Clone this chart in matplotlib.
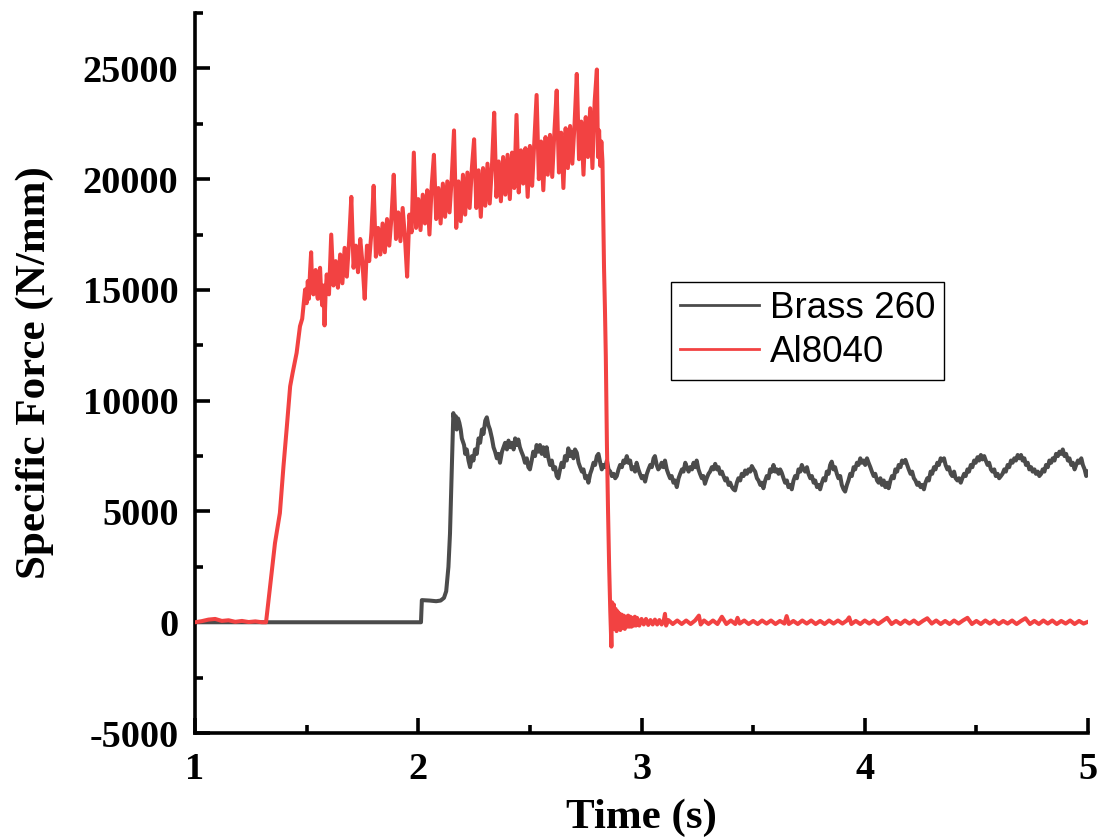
import matplotlib
matplotlib.use("Agg")
import matplotlib.pyplot as plt
from matplotlib.ticker import MultipleLocator
from matplotlib.lines import Line2D

plt.rcParams["axes.unicode_minus"] = False

# ---------------- data ----------------
brass_t = [1.00, 1.50, 2.012, 2.016, 2.05, 2.08, 2.10, 2.115, 2.125, 2.135, 2.142, 2.150,
           2.157, 2.163, 2.168, 2.172, 2.178, 2.184, 2.190, 2.195, 2.205, 2.210, 2.217, 2.225,
           2.232, 2.240, 2.247, 2.254, 2.262, 2.270, 2.277, 2.285, 2.292, 2.300, 2.307, 2.314,
           2.321, 2.330, 2.337, 2.344, 2.352, 2.359, 2.366, 2.375, 2.382, 2.389, 2.397, 2.404,
           2.412, 2.419, 2.427, 2.434, 2.441, 2.448, 2.455, 2.462, 2.470, 2.478, 2.486, 2.493,
           2.500, 2.508, 2.515, 2.523, 2.530, 2.538, 2.545, 2.553, 2.560, 2.568, 2.575, 2.583,
           2.590, 2.598, 2.605, 2.613, 2.620, 2.627, 2.635, 2.642, 2.650, 2.657, 2.665, 2.672,
           2.680, 2.687, 2.695, 2.702, 2.710, 2.718, 2.725, 2.733, 2.740, 2.748, 2.755, 2.762,
           2.770, 2.777, 2.785, 2.792, 2.800, 2.807, 2.815, 2.822, 2.830, 2.837, 2.845, 2.852,
           2.860, 2.867, 2.875, 2.882, 2.889, 2.897, 2.904, 2.912, 2.919, 2.926, 2.934, 2.941,
           2.949, 2.956, 2.963, 2.971, 2.978, 2.986, 2.993, 3.001, 3.008, 3.016, 3.024, 3.031,
           3.039, 3.046, 3.054, 3.060, 3.068, 3.075, 3.083, 3.090, 3.098, 3.105, 3.113, 3.120,
           3.128, 3.135, 3.143, 3.150, 3.158, 3.166, 3.173, 3.181, 3.188, 3.196, 3.203, 3.211,
           3.218, 3.226, 3.233, 3.240, 3.247, 3.255, 3.262, 3.270, 3.277, 3.284, 3.292, 3.300,
           3.307, 3.315, 3.322, 3.330, 3.338, 3.345, 3.352, 3.360, 3.367, 3.375, 3.382, 3.390,
           3.397, 3.405, 3.412, 3.419, 3.427, 3.434, 3.442, 3.449, 3.457, 3.464, 3.472, 3.479,
           3.487, 3.494, 3.502, 3.509, 3.517, 3.524, 3.532, 3.539, 3.546, 3.554, 3.561, 3.569,
           3.576, 3.584, 3.591, 3.599, 3.606, 3.614, 3.621, 3.628, 3.636, 3.643, 3.651, 3.658,
           3.666, 3.673, 3.681, 3.688, 3.696, 3.703, 3.711, 3.718, 3.726, 3.733, 3.741, 3.748,
           3.756, 3.763, 3.771, 3.778, 3.786, 3.793, 3.800, 3.808, 3.815, 3.823, 3.830, 3.838,
           3.845, 3.852, 3.860, 3.867, 3.875, 3.882, 3.890, 3.897, 3.905, 3.912, 3.920, 3.927,
           3.935, 3.942, 3.950, 3.957, 3.965, 3.972, 3.980, 3.987, 3.995, 4.002, 4.010, 4.017,
           4.025, 4.032, 4.040, 4.047, 4.055, 4.062, 4.070, 4.077, 4.085, 4.092, 4.100, 4.107,
           4.115, 4.122, 4.130, 4.137, 4.145, 4.152, 4.160, 4.167, 4.175, 4.182, 4.190, 4.197,
           4.205, 4.212, 4.220, 4.227, 4.235, 4.242, 4.250, 4.257, 4.265, 4.272, 4.280, 4.287,
           4.295, 4.302, 4.310, 4.317, 4.325, 4.332, 4.340, 4.347, 4.355, 4.362, 4.370, 4.377,
           4.385, 4.392, 4.400, 4.407, 4.415, 4.422, 4.430, 4.437, 4.445, 4.452, 4.460, 4.467,
           4.475, 4.482, 4.490, 4.497, 4.505, 4.512, 4.520, 4.527, 4.535, 4.542, 4.550, 4.557,
           4.565, 4.572, 4.580, 4.587, 4.595, 4.602, 4.610, 4.617, 4.625, 4.632, 4.640, 4.647,
           4.655, 4.662, 4.670, 4.677, 4.685, 4.692, 4.700, 4.707, 4.715, 4.722, 4.730, 4.737,
           4.745, 4.752, 4.760, 4.767, 4.775, 4.782, 4.790, 4.797, 4.805, 4.812, 4.820, 4.827,
           4.835, 4.842, 4.850, 4.857, 4.865, 4.872, 4.880, 4.887, 4.895, 4.902, 4.910, 4.917,
           4.925, 4.932, 4.940, 4.947, 4.955, 4.962, 4.970, 4.977, 4.985, 4.992, 5.000]
brass_f = [0, 0, 0, 1000, 980, 950, 980, 1100, 1400, 2500, 4000, 7000,
           9440, 9000, 9300, 8700, 9200, 9000, 8700, 8300, 8000, 7600, 7800, 7300,
           7000, 7500, 7300, 7800, 7600, 8300, 8100, 8700, 8500, 9100, 9250, 8900,
           8700, 8300, 7900, 7700, 7400, 7600, 7200, 7700, 7900, 8100, 7800, 8200,
           7900, 8100, 7800, 8300, 8000, 8250, 7900, 7700, 7500, 7200, 7400, 7000,
           6900, 7300, 7700, 7500, 8000, 7700, 8000, 7600, 7900, 7500, 7900, 7400,
           7100, 7300, 6900, 7000, 6600, 6500, 6900, 7200, 7000, 7500, 7300, 7850,
           7500, 7700, 7400, 7800, 7650, 7200, 7000, 6800, 6900, 6500, 6600, 6300,
           6700, 6900, 7200, 7100, 7500, 7600, 7200, 6900, 7100, 7000, 7300, 6900,
           6800, 6600, 6700, 6500, 6600, 6900, 7100, 7000, 7300, 7200, 7500, 7200,
           7300, 6900, 7000, 6800, 7200, 6900, 6700, 6500, 6600, 6350, 6700, 6900,
           7100, 7000, 7400, 7500, 7100, 6900, 7000, 7200, 7000, 7300, 6900, 6700,
           6500, 6600, 6300, 6400, 6100, 6500, 6700, 6900, 6800, 7200, 7000, 6800,
           7000, 6900, 7200, 7000, 7300, 6900, 6700, 6500, 6600, 6250, 6500, 6700,
           6800, 7000, 6900, 7150, 6900, 7000, 6700, 6800, 6600, 6400, 6500, 6200,
           6300, 6100, 6000, 5950, 6300, 6500, 6400, 6700, 6600, 6850, 6700, 6900,
           6800, 7050, 6900, 6800, 6500, 6400, 6200, 6300, 6050, 6400, 6600, 6500,
           6900, 6800, 7100, 6800, 6900, 6700, 6900, 6750, 6500, 6300, 6400, 6100,
           6200, 6000, 6400, 6600, 6500, 6900, 6800, 7100, 6900, 6800, 7000, 6700,
           6500, 6600, 6300, 6400, 6100, 6200, 6000, 6300, 6500, 6400, 6800, 6700,
           7100, 7250, 6900, 7000, 6700, 6500, 6600, 6200, 6000, 5900, 6200, 6400,
           6700, 6600, 7000, 6900, 7200, 7100, 7400, 7200, 7300, 7100, 7400, 7200,
           7000, 6800, 6600, 6700, 6400, 6300, 6500, 6200, 6400, 6100, 6300, 6050,
           6400, 6600, 6500, 6900, 6800, 7100, 7000, 7300, 7200, 7330, 7100, 6900,
           6700, 6800, 6500, 6400, 6200, 6300, 6100, 6200, 6000, 6300, 6500, 6400,
           6800, 6700, 7000, 6900, 7200, 7100, 7400, 7300, 7400, 7100, 6900, 7000,
           6700, 6600, 6800, 6500, 6400, 6500, 6300, 6500, 6700, 6600, 6900, 6800,
           7100, 7000, 7300, 7200, 7450, 7300, 7550, 7350, 7500, 7300, 7100, 7200,
           6900, 6800, 6900, 6600, 6700, 6500, 6600, 6700, 6900, 6800, 7100, 7000,
           7300, 7200, 7400, 7300, 7550, 7400, 7550, 7300, 7400, 7100, 7200, 6900,
           7000, 6800, 6900, 6700, 6800, 6600, 6700, 6900, 6800, 7100, 7000, 7300,
           7200, 7400, 7300, 7600, 7500, 7700, 7600, 7800, 7500, 7600, 7300, 7400,
           7100, 7200, 6900, 7100, 7300, 7200, 7400, 7100, 6900, 6600, 6800]

al_t = [1.00, 1.03, 1.06, 1.09, 1.12, 1.15, 1.18, 1.21, 1.24, 1.27, 1.30, 1.318,
        1.335, 1.358, 1.38, 1.396, 1.41, 1.426, 1.437, 1.455, 1.47, 1.48, 1.493,
        1.50, 1.505, 1.51, 1.515, 1.52, 1.525, 1.53, 1.535, 1.54, 1.545, 1.55, 1.555,
        1.56, 1.565, 1.57, 1.575, 1.58, 1.585, 1.59, 1.595,
        1.60, 1.61, 1.62, 1.63, 1.64, 1.65, 1.66, 1.67, 1.68, 1.69,
        1.70, 1.71, 1.72, 1.73, 1.74, 1.75, 1.76, 1.77, 1.78, 1.79,
        1.80, 1.81, 1.82, 1.83, 1.84, 1.85, 1.86, 1.87, 1.88, 1.89,
        1.90, 1.91, 1.92, 1.93, 1.94, 1.95, 1.96, 1.97, 1.98, 1.99,
        2.00, 2.01, 2.02, 2.03, 2.04, 2.05, 2.06, 2.07, 2.08, 2.09,
        2.10, 2.11, 2.12, 2.13, 2.14, 2.15, 2.16, 2.17, 2.18, 2.19,
        2.20, 2.21, 2.22, 2.23, 2.24, 2.25, 2.26, 2.27, 2.28, 2.29,
        2.30, 2.31, 2.32, 2.33, 2.34, 2.35, 2.36, 2.37, 2.38, 2.39,
        2.40, 2.41, 2.42, 2.43, 2.44, 2.45, 2.46, 2.47, 2.48, 2.49,
        2.50, 2.51, 2.52, 2.53, 2.54, 2.55, 2.56, 2.57, 2.58, 2.59,
        2.60, 2.61, 2.62, 2.63, 2.64, 2.65, 2.66, 2.67, 2.68, 2.69,
        2.70, 2.71, 2.72, 2.73, 2.74, 2.75, 2.76, 2.77, 2.78, 2.79,
        2.80, 2.805, 2.81, 2.815, 2.82, 2.825, 2.832, 2.836, 2.84, 2.845, 2.85, 2.855,
        2.860, 2.865, 2.868, 2.872, 2.876, 2.880, 2.884, 2.888, 2.892, 2.896, 2.900, 2.905,
        2.910, 2.915, 2.920, 2.925, 2.930, 2.935, 2.940, 2.945, 2.950, 2.955, 2.960, 2.965,
        2.970, 2.975, 2.980, 2.990, 3.000, 3.010, 3.020, 3.030, 3.040, 3.050, 3.060, 3.070,
        3.080, 3.090, 3.100, 3.105, 3.110, 3.120, 3.140, 3.160, 3.180, 3.200, 3.220, 3.240,
        3.257, 3.265, 3.280, 3.300, 3.320, 3.340, 3.360, 3.380, 3.400, 3.420, 3.430, 3.440,
        3.460, 3.480, 3.500, 3.520, 3.540, 3.560, 3.580, 3.600, 3.620, 3.640, 3.650,
        3.660, 3.680, 3.700, 3.720, 3.740, 3.760, 3.780, 3.800, 3.820, 3.840, 3.860,
        3.880, 3.900, 3.920, 3.930, 3.940, 3.960, 3.980, 4.000, 4.020, 4.040, 4.060,
        4.080, 4.100, 4.120, 4.140, 4.160, 4.180, 4.200, 4.220, 4.240, 4.260, 4.280,
        4.300, 4.320, 4.340, 4.360, 4.380, 4.400, 4.420, 4.440, 4.460, 4.480, 4.500,
        4.520, 4.540, 4.560, 4.580, 4.600, 4.620, 4.640, 4.660, 4.680, 4.700, 4.720,
        4.740, 4.760, 4.780, 4.800, 4.820, 4.840, 4.860, 4.880, 4.900, 4.920, 4.940,
        4.960, 4.980, 5.000]
al_f = [0, 50, 120, 150, 60, 90, 20, 60, 10, 40, 0, 0,
        1500, 3570, 4930, 7030, 8690, 10650, 11250, 12160, 13360, 13700, 15020,
        14400, 15400, 14600, 15800, 16700, 15000, 14800, 15500, 15900, 14900, 14600, 15600,
        16000, 14800, 14300, 15200, 13400, 14900, 15700, 14900,
        14800, 17500, 15200, 16300, 15100, 16600, 15300, 16900, 15600, 17200,
        19200, 16000, 17000, 15800, 17300, 16200, 14600, 17000, 16300, 17600,
        19700, 16500, 17800, 16600, 18000, 16700, 18200, 17000, 18300, 20200,
        17300, 18500, 17200, 18700, 17400, 15600, 18400, 17600, 21200, 17800,
        19100, 17700, 19300, 18000, 19500, 17500, 19700, 21100, 18200, 19600,
        18000, 19800, 18300, 19900, 18500, 20100, 22200, 17800, 19900, 18100,
        20200, 18400, 20300, 18700, 20500, 21800, 18700, 20400, 18300, 20500,
        18800, 20700, 18900, 20600, 23000, 19200, 20800, 19000, 21000, 19300,
        21100, 19100, 21200, 19600, 22900, 19400, 21300, 19800, 21400, 19200,
        21500, 19700, 21800, 23800, 20000, 21700, 19500, 21900, 20200, 22000,
        20100, 22200, 24000, 20300, 22100, 19600, 22300, 20500, 22400, 20700,
        22500, 24750, 20900, 22600, 20200, 22800, 21000, 23200, 20500, 23500,
        24950, 21000, 22200, 20600, 21700, 20800, 16000, 14200, 12000, 8000, 5000, 2500,
        500, -1100, 900, 500, 800, -300, 600, -400, 500, -300, 400, -350,
        350, -250, 300, -300, 250, -200, 300, -200, 250, -200, 200, -150,
        250, -150, 200, -150, 150, -100, 150, -120, 100, -100, 120, -100,
        100, -100, 100, 380, -150, 100, -80, 80, -80, 80, -80, 80,
        300, -100, 80, -80, 80, -80, 250, -80, 80, -80, 200, -60,
        80, -80, 60, -80, 80, -60, 80, -80, 60, -60, 280,
        -80, 60, -80, 80, -60, 80, -80, 60, -80, 80, -60,
        80, -60, 80, 220, -80, 60, -80, 80, -60, 80, -80,
        60, 200, -80, 60, -80, 80, -60, 80, -80, 60, 180,
        -60, 80, -80, 60, -80, 80, -60, 80, 200, -80, 60,
        -80, 80, -60, 80, -80, 60, -60, 80, -80, 60, 180,
        -80, 60, -80, 80, -60, 80, -80, 60, -60, 80, -80,
        60, -60, 20]

series_labels = ["Brass 260", "Al8040"]
series_colors = ["#4b4b4b", "#f24242"]
x_ticks = [1, 2, 3, 4, 5]
y_ticks = [-5000, 0, 5000, 10000, 15000, 20000, 25000]

# ---------------- plot ----------------
DPI = 100
fig = plt.figure(figsize=(11.02, 8.39), dpi=DPI)
ax = fig.add_axes([0.177, 0.1263, 0.8103, 0.8582])

ax.plot(brass_t, brass_f, color=series_colors[0], lw=2.9, zorder=2,
        solid_joinstyle="round")
ax.plot(al_t, al_f, color=series_colors[1], lw=2.9, zorder=3,
        solid_joinstyle="round")

ax.set_xlim(1, 5)
ax.set_ylim(-5000, 27500)
ax.set_xticks(x_ticks)
ax.set_yticks(y_ticks)
ax.xaxis.set_minor_locator(MultipleLocator(0.5))
ax.yaxis.set_minor_locator(MultipleLocator(2500))

for s in ["top", "right"]:
    ax.spines[s].set_visible(False)
for s in ["left", "bottom"]:
    ax.spines[s].set_linewidth(2.6)

ax.tick_params(which="major", direction="in", length=11, width=2.6, pad=12)
ax.tick_params(which="minor", direction="in", length=6, width=2.6)
ax.tick_params(axis="x", which="major", pad=14)

for lab in ax.get_xticklabels() + ax.get_yticklabels():
    lab.set_fontfamily("Liberation Serif")
    lab.set_fontweight("bold")
    lab.set_fontsize(27.5)

ax.set_xlabel("Time (s)", family="Liberation Serif", weight="bold", size=31, labelpad=8)
ax.set_ylabel("Specific Force (N/mm)", family="Liberation Serif", weight="bold", size=31,
              labelpad=21)

handles = [Line2D([], [], color=series_colors[0], lw=2.0),
           Line2D([], [], color=series_colors[1], lw=2.0)]
leg = ax.legend(handles, series_labels, loc="upper left", bbox_to_anchor=(0.533, 0.627),
                prop=dict(family="Liberation Sans", size=26.5), frameon=True,
                fancybox=False, framealpha=1, edgecolor="black", borderpad=0.25,
                handlelength=2.15, handletextpad=0.28, labelspacing=0.26,
                borderaxespad=0)
leg.get_frame().set_linewidth(1.0)

fig.savefig("out.png", dpi=DPI)
